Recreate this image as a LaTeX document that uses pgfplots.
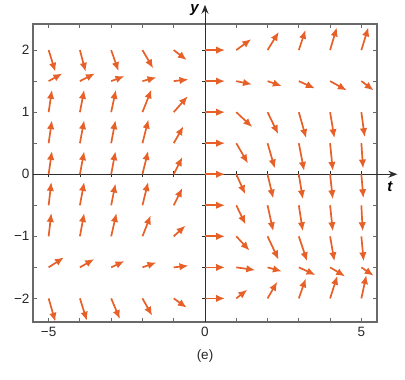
\documentclass[border=0pt]{standalone}
\usepackage{fontspec}
\setmainfont{Liberation Sans}
\usepackage{pgfplots}
\pgfplotsset{compat=1.18}
\usetikzlibrary{arrows.meta}
\definecolor{arr}{RGB}{230,96,40}
\definecolor{framec}{RGB}{105,105,105}
\definecolor{axc}{RGB}{45,45,45}
\pgfplotstableread{
x y u v
-5 2 0.215 -0.350
-5 1.5 0.439 0.124
-5 1 0.106 0.360
-5 0.5 0.106 0.371
-5 0 0.106 0.376
-5 -0.5 0.087 0.376
-5 -1 0.087 0.376
-5 -1.5 0.490 0.161
-5 -2 0.215 -0.376
-4 2 0.183 -0.350
-4 1.5 0.481 0.124
-4 1 0.138 0.360
-4 0.5 0.138 0.371
-4 0 0.138 0.371
-4 -0.5 0.138 0.376
-4 -1 0.138 0.376
-4 -1.5 0.458 0.134
-4 -2 0.224 -0.360
-3 2 0.234 -0.339
-3 1.5 0.426 0.081
-3 1 0.151 0.360
-3 0.5 0.138 0.371
-3 0 0.138 0.371
-3 -0.5 0.138 0.350
-3 -1 0.170 0.376
-3 -1.5 0.426 0.102
-3 -2 0.279 -0.334
-2 2 0.343 -0.295
-2 1.5 0.449 0.060
-2 1 0.288 0.366
-2 0.5 0.192 0.382
-2 0 0.183 0.376
-2 -0.5 0.183 0.376
-2 -1 0.266 0.339
-2 -1.5 0.449 0.081
-2 -2 0.311 -0.279
-1 2 0.417 -0.161
-1 1.5 0.471 0.027
-1 1 0.449 0.258
-1 0.5 0.311 0.274
-1 0 0.279 0.279
-1 -0.5 0.279 0.279
-1 -1 0.375 0.173
-1 -1.5 0.471 0.027
-1 -2 0.417 -0.150
0 2 0.641 0
0 1.5 0.641 0
0 1 0.641 0
0 0.5 0.641 0
0 0 0.641 0
0 -0.5 0.641 0
0 -1 0.641 0
0 -1.5 0.641 0
0 -2 0.641 0
1 2 0.481 0.177
1 1.5 0.503 -0.053
1 1 0.513 -0.242
1 0.5 0.375 -0.327
1 0 0.288 -0.323
1 -0.5 0.298 -0.311
1 -1 0.426 -0.231
1 -1.5 0.609 -0.044
1 -2 0.353 0.140
2 2 0.362 0.295
2 1.5 0.458 -0.081
2 1 0.343 -0.355
2 0.5 0.234 -0.408
2 0 0.183 -0.392
2 -0.5 0.183 -0.419
2 -1 0.353 -0.376
2 -1.5 0.458 -0.065
2 -2 0.311 0.269
3 2 0.215 0.327
3 1.5 0.513 -0.118
3 1 0.234 -0.419
3 0.5 0.170 -0.447
3 0 0.128 -0.403
3 -0.5 0.128 -0.419
3 -1 0.266 -0.403
3 -1.5 0.535 -0.124
3 -2 0.224 0.323
4 2 0.215 0.366
4 1.5 0.535 -0.150
4 1 0.138 -0.419
4 0.5 0.087 -0.447
4 0 0.087 -0.403
4 -0.5 0.087 -0.419
4 -1 0.138 -0.403
4 -1.5 0.481 -0.145
4 -2 0.234 0.366
5 2 0.224 0.366
5 1.5 0.394 -0.150
5 1 0.106 -0.403
5 0.5 0.054 -0.408
5 0 0.064 -0.387
5 -0.5 0.042 -0.419
5 -1 0.074 -0.403
5 -1.5 0.394 -0.134
5 -2 0.160 0.376
}\field
\begin{document}
\begin{tikzpicture}
\begin{axis}[scale only axis, width=344pt, height=298pt,
  xmin=-5.5, xmax=5.5, ymin=-2.38, ymax=2.42,
  axis line style={framec, line width=1.2pt},
  tick align=inside, major tick length=4pt,
  tick style={framec, line width=1pt},
  xtick={-5,-4,-3,-2,-1,0,1,2,3,4,5},
  xticklabels={−5,,,,,0,,,,,5},
  ytick={-2,-1.5,-1,-0.5,0,0.5,1,1.5,2},
  yticklabels={−2,,−1,,0,,1,,2},
  tick label style={font=\fontsize{13.5}{14}\selectfont, text=black!85},
  xticklabel style={yshift=-2pt},
  clip=false]
\draw[axc, line width=1pt, -{Stealth[length=9pt,width=7pt]}] (axis cs:-5.5,0) -- (axis cs:6.15,0);
\draw[axc, line width=1pt, -{Stealth[length=9pt,width=7pt]}] (axis cs:0,-2.38) -- (axis cs:0,2.73);
\pgfplotsinvokeforeach{-5,-4,-3,-2,-1,1,2,3,4,5}{
  \draw[axc, line width=0.8pt] ([yshift=-3pt]axis cs:#1,0) -- ([yshift=3pt]axis cs:#1,0);
}
\pgfplotsinvokeforeach{-2,-1.5,-1,-0.5,0.5,1,1.5,2}{
  \draw[axc, line width=0.8pt] ([xshift=-3pt]axis cs:0,#1) -- ([xshift=3pt]axis cs:0,#1);
}
\addplot[arr, line width=1.7pt, -{Latex[length=9pt,width=7.5pt]},
  quiver={u=\thisrow{u}, v=\thisrow{v}}] table[x=x, y=y] {\field};
\node[anchor=east, inner sep=0pt, font=\bfseries\itshape\fontsize{15}{15}\selectfont] at ([xshift=-6pt]axis cs:0,2.646) {y};
\node[inner sep=0pt, font=\bfseries\itshape\fontsize{15}{15}\selectfont] at (axis cs:5.91,-0.2) {t};
\node[inner sep=0pt, font=\fontsize{13.5}{14}\selectfont, text=black!85] at (axis cs:0,-2.92) {(e)};
\end{axis}
\path ([shift={(-33pt,-58pt)}]current axis.south west) rectangle ([shift={(372pt,322pt)}]current axis.south west);
\end{tikzpicture}
\end{document}
